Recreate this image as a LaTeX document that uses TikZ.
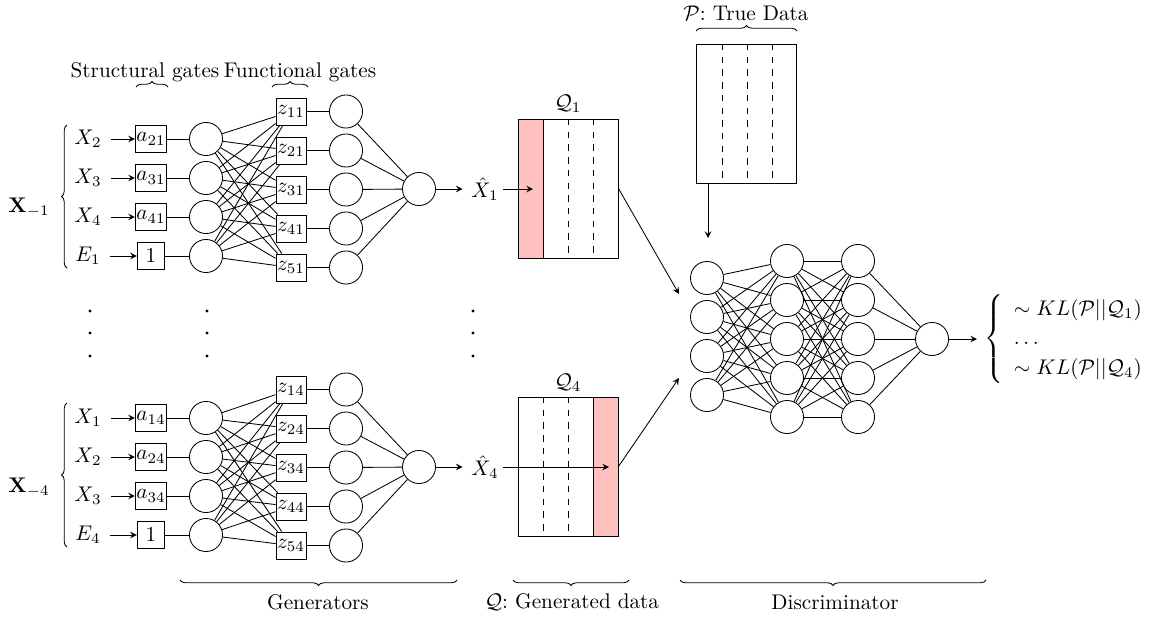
\documentclass[tikz,border=0pt]{standalone}
\usetikzlibrary{decorations.pathreplacing,arrows}
\definecolor{pinkfill}{RGB}{255,192,192}
\begin{document}
\begin{tikzpicture}[x=0.4717pt,y=-0.4717pt,
  neuron/.style={circle,draw,minimum size=15.6pt,inner sep=0pt},
  gate/.style={rectangle,draw,minimum width=13pt,minimum height=12.8pt,inner sep=0.5pt},
  databox/.style={rectangle,draw,minimum width=47.2pt,minimum height=65.6pt,inner sep=0pt},
  arr/.style={-stealth},
  brc/.style={decorate,decoration={brace,amplitude=2.6pt}},
  dot/.style={fill=black}]
\useasboundingbox (0,0) rectangle (1154,619);

% ---------------- Generator 1 ----------------
\node (X1lab) at (29,208) {$\mathbf{X}_{-1}$};
\draw[brc] (67,268) -- (67,125);
\node[neuron] (oa) at (419,189) {};
\foreach \i/\xl/\al in {1/X_2/a_{21},2/X_3/a_{31},3/X_4/a_{41},4/E_1/1}{
  \node (xa\i) at (88,{139+39*(\i-1)}) {$\xl$};
  \node[gate] (ga\i) at (151,{139+39*(\i-1)}) {$\al$};
  \node[neuron] (ca\i) at (206,{139+39*(\i-1)}) {};
  \draw[arr,shorten <=1pt] (xa\i) -- (ga\i);
  \draw (ga\i) -- (ca\i);
}
\foreach \j/\zl in {1/z_{11},2/z_{21},3/z_{31},4/z_{41},5/z_{51}}{
  \node[gate] (za\j) at (291,{111.5+39*(\j-1)}) {$\zl$};
  \node[neuron] (ha\j) at (346,{111.5+39*(\j-1)}) {};
  \draw (za\j) -- (ha\j);
  \draw (ha\j) -- (oa);
}
\foreach \i in {1,...,4}{\foreach \j in {1,...,5}{\draw (ca\i) -- (za\j);}}
\node[inner sep=2pt] (xha) at (485,189) {$\hat{X}_1$};
\draw[arr,shorten >=2pt] (oa) -- (xha);

% Q1 data box
\fill[pinkfill] (518,119) rectangle (543,258);
\node[databox] (q1) at (568,188.5) {};
\draw (543,119) -- (543,258);
\draw[dashed] (568,119) -- (568,258);
\draw[dashed] (593,119) -- (593,258);
\node (q1lab) at (568,104) {$\mathcal{Q}_1$};
\coordinate (q1in) at (533,189);
\draw[arr] (xha) -- (q1in);

% ---------------- Generator 4 ----------------
\node (X4lab) at (29,488) {$\mathbf{X}_{-4}$};
\draw[brc] (67,547) -- (67,403);
\node[neuron] (ob) at (419,467) {};
\foreach \i/\xl/\al in {1/X_1/a_{14},2/X_2/a_{24},3/X_3/a_{34},4/E_4/1}{
  \node (xb\i) at (88,{418+39*(\i-1)}) {$\xl$};
  \node[gate] (gb\i) at (151,{418+39*(\i-1)}) {$\al$};
  \node[neuron] (cb\i) at (206,{418+39*(\i-1)}) {};
  \draw[arr,shorten <=1pt] (xb\i) -- (gb\i);
  \draw (gb\i) -- (cb\i);
}
\foreach \j/\zl in {1/z_{14},2/z_{24},3/z_{34},4/z_{44},5/z_{54}}{
  \node[gate] (zb\j) at (291,{389.5+39*(\j-1)}) {$\zl$};
  \node[neuron] (hb\j) at (346,{389.5+39*(\j-1)}) {};
  \draw (zb\j) -- (hb\j);
  \draw (hb\j) -- (ob);
}
\foreach \i in {1,...,4}{\foreach \j in {1,...,5}{\draw (cb\i) -- (zb\j);}}
\node[inner sep=2pt] (xhb) at (485,467) {$\hat{X}_4$};
\draw[arr,shorten >=2pt] (ob) -- (xhb);

% Q4 data box
\fill[pinkfill] (593,397) rectangle (618,536);
\node[databox] (q4) at (568,466.5) {};
\draw (593,397) -- (593,536);
\draw[dashed] (543,397) -- (543,536);
\draw[dashed] (568,397) -- (568,536);
\node (q4lab) at (568,383) {$\mathcal{Q}_4$};
\coordinate (q4in) at (609,467);
\draw[arr] (xhb) -- (q4in);

% vertical dots
\foreach \xx in {90,207,473}{
  \foreach \yy in {311,333,356}{\fill[dot] (\xx,\yy) circle (0.8pt);}
}

% top braces
\draw[brc] (136,87) -- (168,87);
\node (sglab) at (145,72) {Structural gates};
\draw[brc] (272,87) -- (308,87);
\node (fglab) at (300,72) {Functional gates};

% ---------------- True data ----------------
\node[databox] (pbox) at (746.5,113.5) {};
\draw[dashed] (722,44) -- (722,183);
\draw[dashed] (747,44) -- (747,183);
\draw[dashed] (772,44) -- (772,183);
\draw[brc] (696,31) -- (797,31);
\node (plab) at (746,13) {$\mathcal{P}$:~True Data};
\coordinate (pin) at (708,238);
\draw[arr] (pbox.south -| pin) -- (pin);

% ---------------- Discriminator ----------------
\foreach \i in {1,...,4}{\node[neuron] (da\i) at (707,{278+39*(\i-1)}) {};}
\foreach \j in {1,...,5}{
  \node[neuron] (db\j) at (787,{261+39*(\j-1)}) {};
  \node[neuron] (dc\j) at (858,{261+39*(\j-1)}) {};
}
\node[neuron] (dout) at (932,339) {};
\foreach \i in {1,...,4}{\foreach \j in {1,...,5}{\draw (da\i) -- (db\j);}}
\foreach \i in {1,...,5}{\foreach \j in {1,...,5}{\draw (db\i) -- (dc\j);}}
\foreach \j in {1,...,5}{\draw (dc\j) -- (dout);}

\coordinate (d1in) at (679,294);
\coordinate (d4in) at (679,378);
\draw[arr] (q1.east) -- (d1in);
\draw[arr] (q4.east) -- (d4in);

\node[anchor=west] (kl) at (977,339) {\renewcommand{\arraystretch}{1.15}$\left\{\begin{array}{l}\sim KL(\mathcal{P}||\mathcal{Q}_1)\\ \dots\\ \sim KL(\mathcal{P}||\mathcal{Q}_4)\end{array}\right.$};
\draw[arr] (dout) -- (kl.west);

% bottom braces
\draw[brc] (457,580) -- (180,580);
\node (genlab) at (318,602) {Generators};
\draw[brc] (629,580) -- (513,580);
\node (qlab) at (572,602) {$\mathcal{Q}$:~Generated data};
\draw[brc] (986,580) -- (680,580);
\node (dlab) at (835,602) {Discriminator};
\end{tikzpicture}
\end{document}
